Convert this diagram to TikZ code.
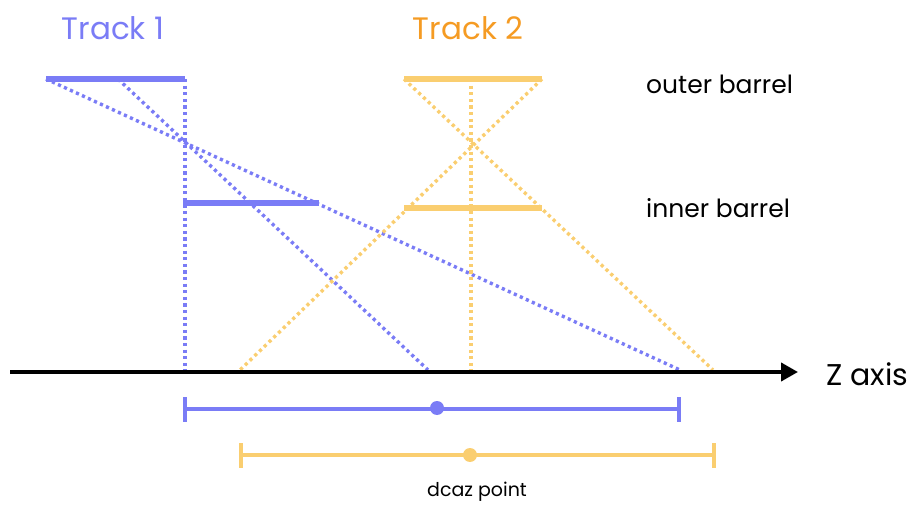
\documentclass[tikz,border=0pt]{standalone}
\usepackage{fontspec}
\setmainfont{Poppins}
\usetikzlibrary{arrows.meta}
\definecolor{tblue}{RGB}{122,124,246}
\definecolor{tyellow}{RGB}{250,206,112}
\definecolor{torange}{RGB}{245,155,35}
\begin{document}
\begin{tikzpicture}[x=1pt,y=-1pt,
  barrel/.style={line width=6pt},
  track/.style={line width=3.4pt, dash pattern=on 3.2pt off 3.4pt},
  errbar/.style={line width=4.2pt},
  errcap/.style={line width=4.5pt},
  lbl/.style={inner sep=0pt, font=\fontsize{25}{28}\selectfont},
  title/.style={inner sep=0pt, font=\fontsize{31}{34}\selectfont}]
\useasboundingbox (0,0) rectangle (914,505);
% track 1
\coordinate (b1oL) at (46,79); \coordinate (b1oM) at (118,79); \coordinate (b1oR) at (185,79);
\coordinate (b1iL) at (183,203); \coordinate (b1iR) at (319,203);
\coordinate (z1a) at (185,372); \coordinate (z1b) at (680,370); \coordinate (z1c) at (428,370);
\draw[barrel, tblue] (b1oL) -- (b1oR);
\draw[barrel, tblue] (b1iL) -- (b1iR);
\draw[track, tblue] (b1oR) -- (z1a);
\draw[track, tblue] (b1oL) -- (z1b);
\draw[track, tblue] (b1oM) -- (z1c);
% track 2
\coordinate (b2oL) at (404,79); \coordinate (b2oM) at (471,79); \coordinate (b2oR) at (542,79);
\coordinate (b2iL) at (404,208); \coordinate (b2iR) at (542,208);
\coordinate (z2a) at (471,372); \coordinate (z2b) at (713,370); \coordinate (z2c) at (240,370);
\draw[barrel, tyellow] (b2oL) -- (b2oR);
\draw[barrel, tyellow] (b2iL) -- (b2iR);
\draw[track, tyellow] (b2oM) -- (z2a);
\draw[track, tyellow] (b2oL) -- (z2b);
\draw[track, tyellow] (b2oR) -- (z2c);
% axis
\coordinate (ax0) at (10,372); \coordinate (ax1) at (798,372);
\draw[line width=4pt, -{Triangle[length=17pt,width=18pt]}] (ax0) -- (ax1);
\node[lbl, anchor=west, font=\fontsize{30}{32}\selectfont] (zlab) at (826,374) {Z axis};
% labels
\node[title, text=tblue] (t1) at (113,28) {Track 1};
\node[title, text=torange] (t2) at (468,28) {Track 2};
\node[lbl, anchor=west] (ob) at (646,84) {outer barrel};
\node[lbl, anchor=west] (ib) at (646,208) {inner barrel};
% error bars
\coordinate (e1L) at (185,409); \coordinate (e1R) at (679,409);
\draw[errbar, tblue] (e1L) -- (e1R);
\draw[errcap, tblue] (185,397) -- (185,422);
\draw[errcap, tblue] (679,397) -- (679,422);
\fill[tblue] (437,408) circle (7pt);
\coordinate (e2L) at (241,455); \coordinate (e2R) at (714,455);
\draw[errbar, tyellow] (e2L) -- (e2R);
\draw[errcap, tyellow] (241,443) -- (241,468);
\draw[errcap, tyellow] (714,443) -- (714,468);
\fill[tyellow] (470,455) circle (7pt);
\node[lbl, font=\fontsize{19}{22}\selectfont] (dp) at (477,492) {dcaz point};
\end{tikzpicture}
\end{document}
